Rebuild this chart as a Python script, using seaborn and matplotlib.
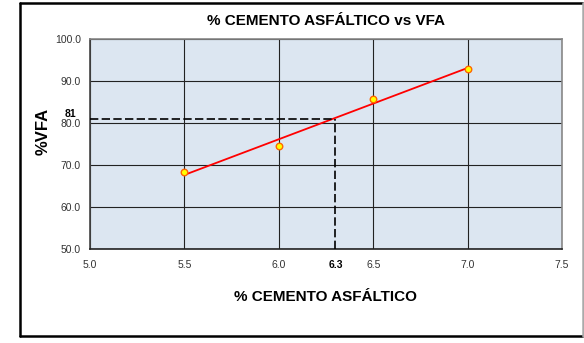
"""% cemento asfáltico vs VFA."""
import seaborn as sns
import matplotlib.pyplot as plt
import pandas as pd
from matplotlib.lines import Line2D

cemento = [5.5, 6.0, 6.5, 7.0]
vfa = [68.3, 74.6, 85.7, 92.9]
diseno_x = 6.3
diseno_y = 81
x_ticks = [5.0, 5.5, 6.0, 6.5, 7.0, 7.5]
y_ticks = [50.0, 60.0, 70.0, 80.0, 90.0, 100.0]

df = pd.DataFrame({"cemento": cemento, "vfa": vfa})

sns.set_style("white")
plt.rcParams["font.family"] = ["Liberation Sans", "DejaVu Sans"]
plt.rcParams["text.color"] = "black"
plt.rcParams["axes.labelcolor"] = "black"

fig = plt.figure(figsize=(5.84, 3.43), dpi=100)
ax = fig.add_axes([90 / 584, 1 - 249 / 343, 472 / 584, 210 / 343])
ax.set_facecolor("#dce6f1")

# marco exterior (derecha gris, resto negro)
W, H = 584, 343
def fx(px):
    return px / W
def fy(py):
    return 1 - py / H
for (x0, y0, x1, y1, c) in [(20, 3, 583, 3, "black"), (20, 336, 583, 336, "black"),
                            (20, 3, 20, 336, "black"), (583, 3, 583, 336, "#aaaaaa")]:
    fig.lines.append(Line2D([fx(x0), fx(x1)], [fy(y0), fy(y1)], transform=fig.transFigure,
                            color=c, lw=1.8))

sns.regplot(data=df, x="cemento", y="vfa", ax=ax, ci=None, scatter=False,
            truncate=True, line_kws={"color": "red", "lw": 1.3, "zorder": 3})
sns.scatterplot(data=df, x="cemento", y="vfa", ax=ax, color="#ffff00",
                edgecolor="#ff6600", linewidth=1, s=22, zorder=4)

ax.plot([x_ticks[0], diseno_x], [diseno_y, diseno_y], color="black", lw=1.2,
        ls=(0, (5, 2)), zorder=3)
ax.plot([diseno_x, diseno_x], [y_ticks[0], diseno_y], color="black", lw=1.2,
        ls=(0, (5, 2)), zorder=3)

ax.set_xlim(x_ticks[0], x_ticks[-1])
ax.set_ylim(y_ticks[0], y_ticks[-1])
ax.set_xticks(x_ticks)
ax.set_yticks(y_ticks)
ax.set_xticklabels([f"{t:.1f}" for t in x_ticks])
ax.set_yticklabels([f"{t:.1f}" for t in y_ticks])
ax.tick_params(axis="both", labelsize=7.5, colors="#333333", length=3, width=0.8)
ax.tick_params(axis="x", pad=5)
ax.grid(True, color="#222222", lw=0.8)
ax.set_axisbelow(True)
for s in ax.spines.values():
    s.set_color("#888888")
    s.set_linewidth(1.2)
ax.spines["bottom"].set_color("#222222")
ax.spines["left"].set_color("#444444")

ax.annotate(f"{diseno_x}", xy=(diseno_x, y_ticks[0]), xytext=(0, -8),
            textcoords="offset points", ha="center", va="top",
            fontsize=7.5, fontweight="bold")
ax.annotate(f"{diseno_y}", xy=(x_ticks[0], diseno_y), xytext=(-10, 0),
            textcoords="offset points", ha="right", va="bottom",
            fontsize=7.5, fontweight="bold")

ax.set_title("% CEMENTO ASFÁLTICO vs VFA", fontsize=11, fontweight="bold", pad=10)
ax.set_xlabel("% CEMENTO ASFÁLTICO", fontsize=11, fontweight="bold", labelpad=14)
ax.set_ylabel("%VFA", fontsize=12, fontweight="bold", labelpad=2)
ax.yaxis.set_label_coords(-0.083, 0.56)

fig.savefig("out.png", dpi=100)
